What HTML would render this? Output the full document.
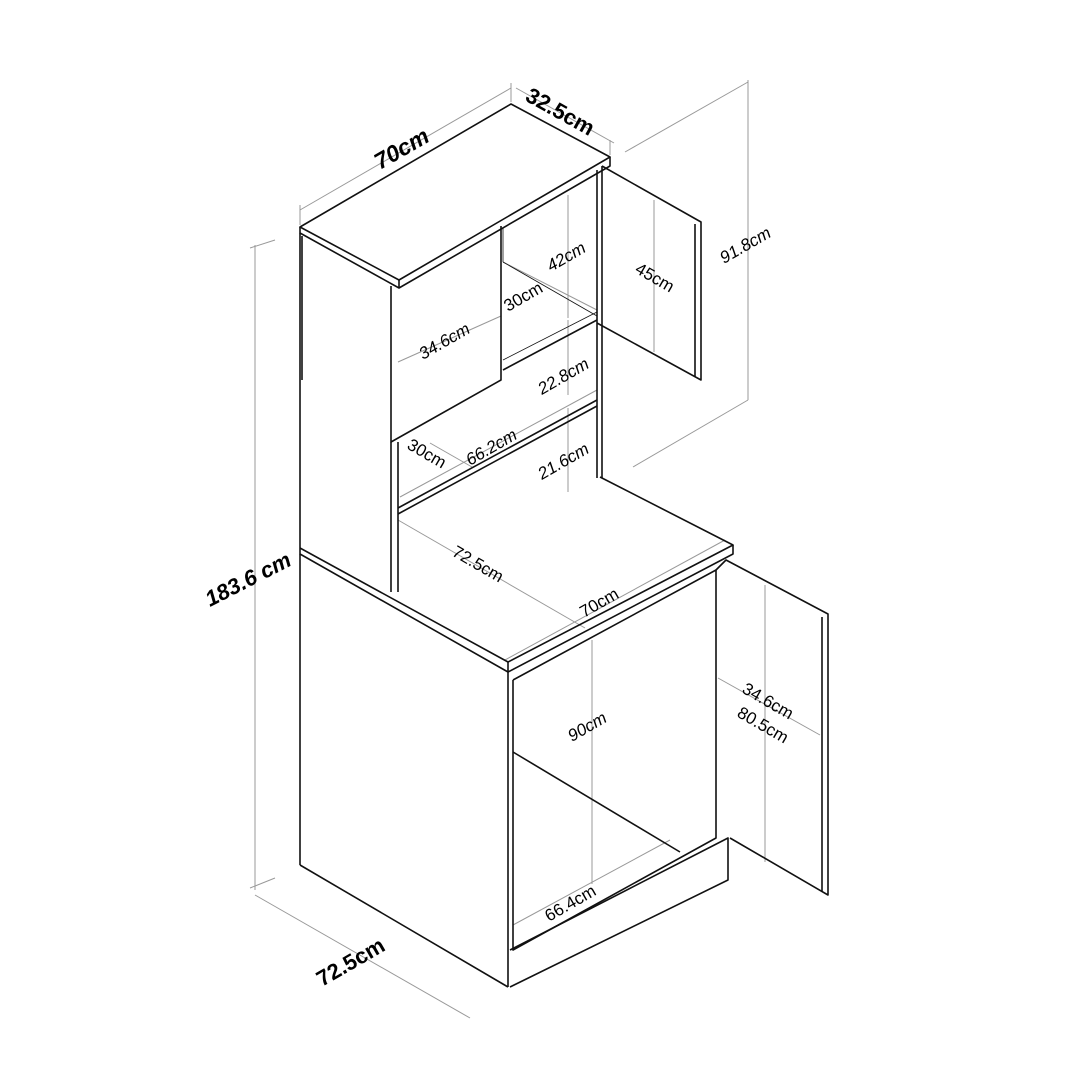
<!DOCTYPE html>
<html><head><style>html,body{margin:0;padding:0;background:#fff}svg{display:block}</style></head>
<body>
<svg width="1080" height="1080" viewBox="0 0 1080 1080" xmlns="http://www.w3.org/2000/svg" font-family="Liberation Sans, sans-serif">
<rect width="1080" height="1080" fill="#fff"/>
<g stroke="#999" stroke-width="1" fill="none">
<line x1="300" y1="210" x2="511" y2="88"/>
<line x1="300" y1="205" x2="300" y2="225"/>
<line x1="511" y1="83" x2="511" y2="102"/>
<line x1="516" y1="88" x2="614" y2="143"/>
<line x1="610" y1="140" x2="610" y2="155"/>
<line x1="255" y1="245" x2="255" y2="890"/>
<line x1="250" y1="248" x2="275" y2="240"/>
<line x1="250" y1="888" x2="275" y2="878"/>
<line x1="255" y1="895" x2="470" y2="1018"/>
<line x1="748" y1="80" x2="748" y2="400"/>
<line x1="625" y1="152" x2="748" y2="82"/>
<line x1="633" y1="467" x2="748" y2="400"/>
<line x1="654" y1="200" x2="654" y2="352"/>
<line x1="568" y1="195" x2="568" y2="318"/>
<line x1="568" y1="320" x2="568" y2="395"/>
<line x1="568" y1="408" x2="568" y2="492"/>
<line x1="501" y1="316" x2="398" y2="362"/>
<line x1="503" y1="262" x2="597" y2="310"/>
<line x1="430" y1="443" x2="472" y2="467"/>
<line x1="400" y1="497" x2="597" y2="390"/>
<line x1="398" y1="520" x2="585" y2="628"/>
<line x1="505" y1="660" x2="725" y2="540"/>
<line x1="592" y1="640" x2="592" y2="884"/>
<line x1="513" y1="925" x2="670" y2="840"/>
<line x1="718" y1="678" x2="820" y2="735"/>
<line x1="765" y1="585" x2="765" y2="862"/>
</g>
<g stroke="#111" stroke-width="1.6" fill="none" stroke-linejoin="round">
<polygon points="300,227 511,104 610,157 399,280"/>
<polyline points="300,227 300,233 399,288 610,166 610,157"/>
<line x1="399" y1="280" x2="399" y2="288"/>
<line x1="300" y1="233" x2="300" y2="548"/>
<line x1="302" y1="236" x2="302" y2="380"/>
<polyline points="391,286 391,442 501,380 501,226"/>
<line x1="398" y1="442" x2="398" y2="592"/>
<line x1="391" y1="442" x2="391" y2="592"/>
<line x1="597" y1="170" x2="597" y2="478"/>
<line x1="602" y1="166" x2="602" y2="478"/>
<line x1="503" y1="370" x2="597" y2="320"/>
<line x1="503" y1="360" x2="597" y2="312" stroke-width="0.8"/>
<line x1="503" y1="228" x2="503" y2="262" stroke-width="0.8"/>
<line x1="503" y1="262" x2="597" y2="316" stroke-width="0.8"/>
<line x1="398" y1="508" x2="597" y2="400"/>
<line x1="398" y1="514" x2="597" y2="406"/>
<polyline points="602,166 701,222 701,380 597,323"/>
<line x1="695" y1="224" x2="695" y2="377"/>
<polyline points="300,548 508,662 733,545 600,477"/>
<polyline points="300,548 300,554 508,672 733,554 733,545"/>
<line x1="508" y1="662" x2="508" y2="672"/>
<line x1="300" y1="554" x2="300" y2="865"/>
<line x1="300" y1="865" x2="508" y2="987"/>
<line x1="508" y1="672" x2="508" y2="987"/>
<polyline points="513,680 716,570 716,838 513,950 513,680"/>
<line x1="513" y1="752" x2="680" y2="852"/>
<polyline points="510,950 728,838 728,880 510,987"/>
<polyline points="716,570 726,560 828,614 828,895 730,838"/>
<line x1="822" y1="617" x2="822" y2="892"/>
</g>
<g fill="#000" font-size="17">
<text transform="translate(380,170) rotate(-30)" font-size="23" font-weight="bold" font-style="italic">70cm</text>
<text transform="translate(524,100) rotate(29)" font-size="22" font-weight="bold">32.5cm</text>
<text transform="translate(210,607) rotate(-27)" font-size="22" font-weight="bold" font-style="italic">183.6 cm</text>
<text transform="translate(322,987) rotate(-30)" font-size="22" font-weight="bold">72.5cm</text>
<text transform="translate(724,264) rotate(-30)" font-style="italic">91.8cm</text>
<text transform="translate(634,272) rotate(30)">45cm</text>
<text transform="translate(551,272) rotate(-30)" font-style="italic">42cm</text>
<text transform="translate(508,312) rotate(-30)">30cm</text>
<text transform="translate(423,360) rotate(-30)" font-style="italic">34.6cm</text>
<text transform="translate(542,395) rotate(-30)" font-style="italic">22.8cm</text>
<text transform="translate(406,448) rotate(30)">30cm</text>
<text transform="translate(470,466) rotate(-30)" font-style="italic">66.2cm</text>
<text transform="translate(542,480) rotate(-30)" font-style="italic">21.6cm</text>
<text transform="translate(451,555) rotate(30)">72.5cm</text>
<text transform="translate(584,618) rotate(-30)">70cm</text>
<text transform="translate(572,742) rotate(-30)" font-style="italic">90cm</text>
<text transform="translate(741,692) rotate(30)">34.6cm</text>
<text transform="translate(736,716) rotate(30)">80.5cm</text>
<text transform="translate(549,922) rotate(-30)">66.4cm</text>
</g>
</svg>
</body></html>
